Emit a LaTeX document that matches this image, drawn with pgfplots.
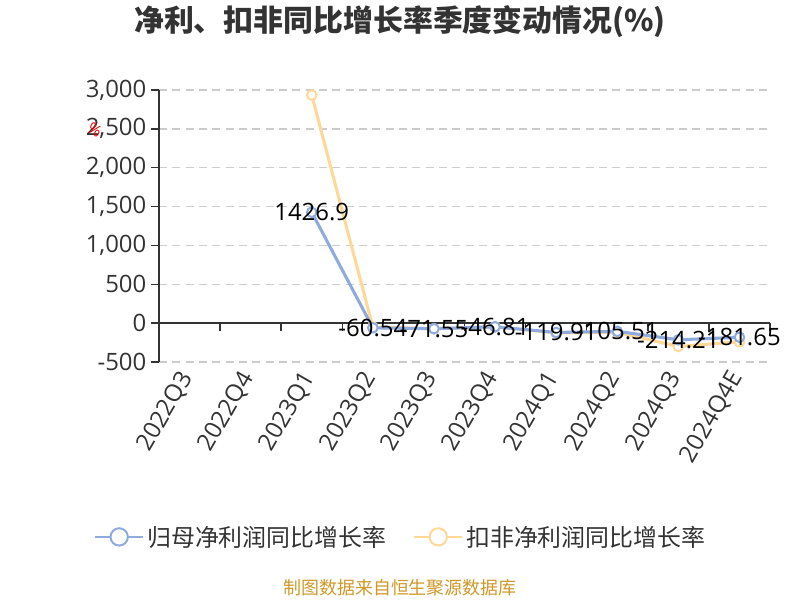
\documentclass[border=0pt]{standalone}
\usepackage{pgfplots}
\pgfplotsset{compat=1.18}
\usepackage{fontspec}
\setmainfont{Open Sans}
\newfontfamily\cjk{Noto Sans CJK SC}
\definecolor{cblue}{RGB}{143,170,220}
\definecolor{corange}{RGB}{255,216,152}
\definecolor{tgray}{RGB}{51,51,51}
\definecolor{ggray}{RGB}{204,204,204}
\definecolor{foot}{RGB}{207,152,40}
\begin{document}
\begin{tikzpicture}[x=0.75bp,y=0.75bp]
\begin{axis}[
  name=ax,
  scale only axis, width=458.25bp, height=204bp,
  xmin=-0.5, xmax=9.5, ymin=-500, ymax=3000,
  axis y line*=left, axis x line*=bottom,
  x axis line style={draw=none},
  y axis line style={tgray, line width=1.1bp},
  xtick={0,...,9},
  xticklabels={2022Q3,2022Q4,2023Q1,2023Q2,2023Q3,2023Q4,2024Q1,2024Q2,2024Q3,2024Q4E},
  xtick style={draw=none},
  xticklabel style={rotate=60, anchor=east, font=\fontsize{18}{20}\selectfont, text=tgray},
  ytick={-500,0,500,1000,1500,2000,2500,3000},
  ytick style={tgray, line width=1.1bp},
  tick align=outside, major tick length=6bp,
  yticklabel style={font=\fontsize{18}{20}\selectfont, text=tgray},
  scaled y ticks=false,
  /pgf/number format/assume math mode=true,
  /pgf/number format/1000 sep={,},
  ymajorgrids,
  major grid style={ggray, line width=1bp, dash pattern=on 6bp off 4bp},
  clip=false,
  legend style={at={(0.396,-0.643)}, anchor=center, draw=none, fill=none,
    legend columns=2, font=\cjk\fontsize{18}{20}\selectfont, text=tgray,
    /tikz/every even column/.append style={column sep=18bp}},
  legend image code/.code={
    \draw[#1, line width=2bp] (0bp,0bp) -- (36bp,0bp);
    \draw[#1, fill=white, line width=1.5bp] (18bp,0bp) circle (6.5bp);
  },
]
\coordinate (sw) at (axis cs:-0.5,-500);
\draw[tgray, line width=1.1bp] (axis cs:-0.5,0) -- (axis cs:9.5,0);
\pgfplotsinvokeforeach{-0.5,0.5,1.5,2.5,3.5,4.5,5.5,6.5,7.5,8.5,9.5}{
  \draw[tgray, line width=1.1bp] (axis cs:#1,0) -- ++(0bp,-6bp);
}
\addlegendimage{cblue}
\addlegendentry{归母净利润同比增长率}
\addlegendimage{corange}
\addlegendentry{扣非净利润同比增长率}
\addplot[forget plot, corange, line width=2.3bp, mark=none] coordinates {
(2,2935) (3,-50) (4,-72) (5,-47) (6,-125) (7,-118) (8,-300) (9,-240)};
\addplot[forget plot, cblue, line width=2.3bp, mark=none] coordinates {
(2,1426.9) (3,-60.54) (4,-71.55) (5,-46.81) (6,-119.91) (7,-105.51) (8,-214.21) (9,-181.65)};
\addplot[forget plot, only marks, mark=*, mark size=3.6bp, mark options={fill=white, draw=corange, line width=1.5bp}] coordinates {
(2,2935) (3,-50) (4,-72) (5,-47) (6,-125) (7,-118) (8,-300) (9,-240)};
\addplot[forget plot, only marks, mark=*, mark size=3.6bp, mark options={fill=white, draw=cblue, line width=1.5bp}] coordinates {
(2,1426.9) (3,-60.54) (4,-71.55) (5,-46.81) (6,-119.91) (7,-105.51) (8,-214.21) (9,-181.65)};
\addplot[forget plot, draw=none, mark=none, point meta=explicit symbolic, nodes near coords,
  nodes near coords style={anchor=center, text=black, font=\fontsize{18}{20}\selectfont}] coordinates {
(2,1426.9) [1426.9] (3,-60.54) [-60.54] (4,-71.55) [-71.55] (5,-46.81) [-46.81] (6,-119.91) [-119.91] (7,-105.51) [-105.51] (8,-214.21) [-214.21] (9,-181.65) [-181.65]};
\end{axis}
\begin{scope}[shift={(sw)}]
% local coords: x_rel = x_px - 159, y_rel = 362 - y_px
\node[font=\cjk\bfseries\fontsize{22.5}{26}\selectfont, text=tgray] at (241,340) {净利、扣非同比增长率季度变动情况(\%)};
\node[font=\fontsize{12}{14}\selectfont, text=red, rotate=-30, inner sep=0pt] at (-64,232) {\%};
\node[font=\cjk\fontsize{13.5}{16}\selectfont, text=foot] at (241,-226) {制图数据来自恒生聚源数据库};
\pgfresetboundingbox
\useasboundingbox (-159,-238) rectangle (641,362);
\end{scope}
\end{tikzpicture}
\end{document}
